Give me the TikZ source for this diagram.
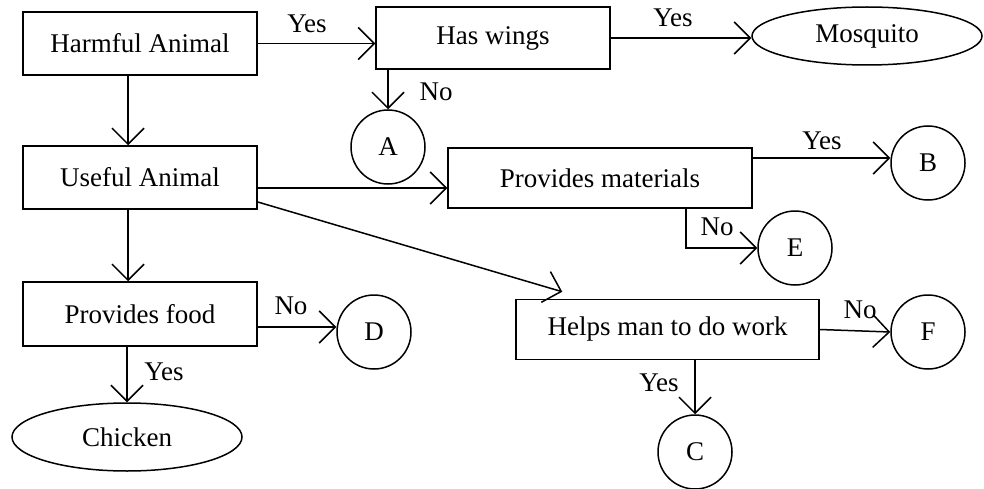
\documentclass[tikz,border=0pt]{standalone}
\usepackage{fontspec}
\setmainfont{Liberation Serif}
\usetikzlibrary{arrows.meta,shapes.geometric}
\begin{document}
\begin{tikzpicture}[x=1pt,y=-1pt,line width=1.5pt,font=\fontsize{27}{32}\selectfont]
	\tikzset{box/.style={draw,rectangle,inner sep=0pt},
		blob/.style={draw,circle,minimum size=74pt,inner sep=0pt},
		oval/.style={draw,ellipse,inner sep=0pt},
		go/.style={-{Straight Barb[length=16pt,width=32pt]}}}
	\useasboundingbox(0,0)rectangle(984,489);
	\coordinate(spine)at(128,0);
	\node[box,minimum width=234pt,minimum height=63pt](harm)at(140,43.5){Harmful Animal};
	\node[box,minimum width=234pt,minimum height=62pt](wings)at(493,38){Has wings};
	\node[oval,minimum width=230pt,minimum height=58pt](mosq)at(867,36){Mosquito};
	\node[blob](A)at(388,147){A};
	\node[box,minimum width=234pt,minimum height=63pt](useful)at(140,177.5){Useful Animal};
	\node[box,minimum width=304pt,minimum height=60pt](pm)at(600,178){Provides materials};
	\node[blob](B)at(928,163){B};
	\node[blob](E)at(795,248){E};
	\node[box,minimum width=234pt,minimum height=64pt](pf)at(140,314){Provides food};
	\node[blob](D)at(374,332){D};
	\node[oval,minimum width=230pt,minimum height=68pt](chick)at(127,437){Chicken};
	\node[box,minimum width=303pt,minimum height=60pt](helps)at(667.5,329.5){Helps man to do work};
	\node[blob](F)at(928,332){F};
	\node[blob](C)at(695,452){C};
	\draw[go](harm.east)--(harm.east-|wings.west);
	\draw[go](wings.east)--(wings.east-|mosq.west);
	\draw[go](A.north|-wings.south)--(A.north);
	\draw[go](spine|-harm.south)--(spine|-useful.north);
	\draw[go]([yshift=-10.5pt]useful.east)--([yshift=-10.5pt]useful.east-|pm.west);
	\draw[go]([yshift=-24.5pt]useful.east)--([xshift=47pt,yshift=7pt]helps.north west);
	\draw[go]([yshift=20pt]pm.east)--([yshift=20pt]pm.east-|B.west);
	\draw[go]([xshift=-67pt]pm.south east)|-(E.west);
	\draw[go](spine|-useful.south)--(spine|-pf.north);
	\draw[go]([yshift=-13pt]pf.east)--([yshift=-13pt]pf.east-|D.west);
	\draw[go](chick.north|-pf.south)--(chick.north);
	\draw[go](helps.east)--(F.west);
	\draw[go](C.north|-helps.south)--(C.north);
	\node(yesW)at(307,24){Yes};
	\node(yesM)at(673,18){Yes};
	\node(yesB)at(822,141){Yes};
	\node(yesK)at(164,372){Yes};
	\node(yesC)at(659,383){Yes};
	\node(noA)at(436,92){No};
	\node(noE)at(717,227){No};
	\node(noD)at(291,306){No};
	\node(noF)at(860,310){No};
\end{tikzpicture}
\end{document}
